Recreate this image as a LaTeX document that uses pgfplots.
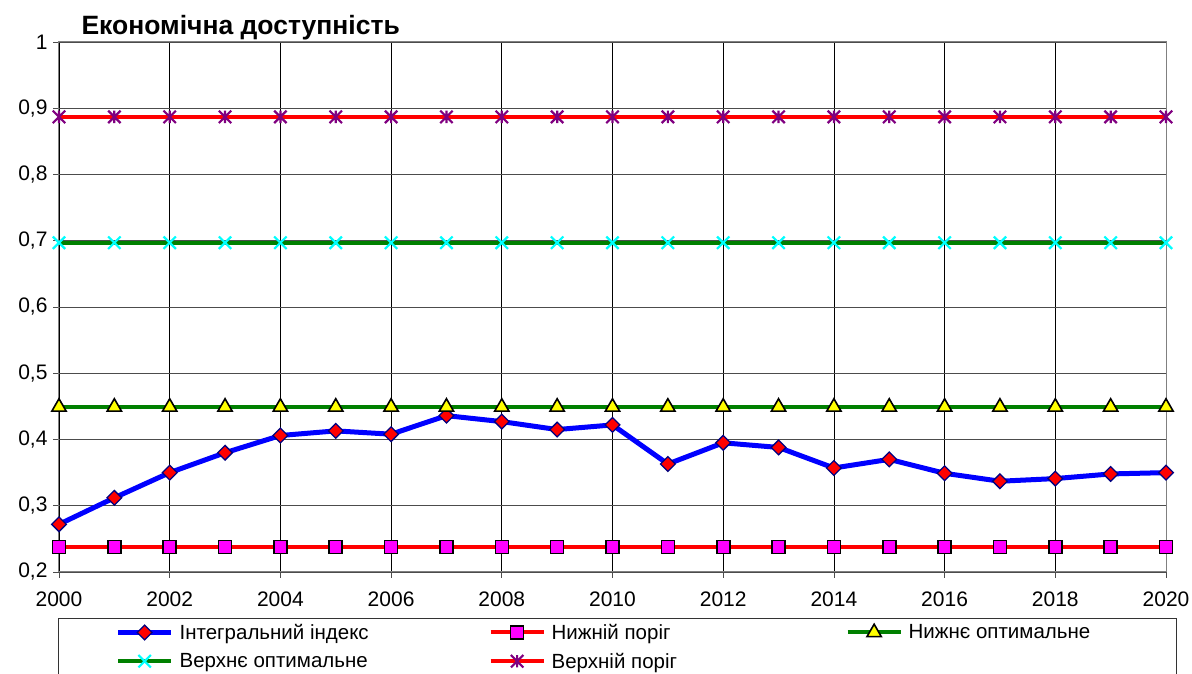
\documentclass[border=0pt]{standalone}
\usepackage{fontspec}
\setmainfont{Liberation Sans}
\usepackage{pgfplots}
\pgfplotsset{compat=1.18}
\definecolor{navyb}{RGB}{0,0,128}
\definecolor{myblue}{RGB}{0,0,255}
\definecolor{myred}{RGB}{255,0,0}
\definecolor{mygreen}{RGB}{0,128,0}
\definecolor{mymag}{RGB}{255,0,255}
\definecolor{myyel}{RGB}{255,255,0}
\definecolor{mycyan}{RGB}{0,255,255}
\definecolor{mypurp}{RGB}{128,0,128}
\pgfdeclareplotmark{myx}{%
  \pgfpathmoveto{\pgfqpoint{-\pgfplotmarksize}{-\pgfplotmarksize}}%
  \pgfpathlineto{\pgfqpoint{\pgfplotmarksize}{\pgfplotmarksize}}%
  \pgfpathmoveto{\pgfqpoint{-\pgfplotmarksize}{\pgfplotmarksize}}%
  \pgfpathlineto{\pgfqpoint{\pgfplotmarksize}{-\pgfplotmarksize}}%
  \pgfusepathqstroke}
\pgfdeclareplotmark{mystar}{%
  \pgfpathmoveto{\pgfqpoint{-\pgfplotmarksize}{-\pgfplotmarksize}}%
  \pgfpathlineto{\pgfqpoint{\pgfplotmarksize}{\pgfplotmarksize}}%
  \pgfpathmoveto{\pgfqpoint{-\pgfplotmarksize}{\pgfplotmarksize}}%
  \pgfpathlineto{\pgfqpoint{\pgfplotmarksize}{-\pgfplotmarksize}}%
  \pgfpathmoveto{\pgfqpoint{0pt}{-\pgfplotmarksize}}%
  \pgfpathlineto{\pgfqpoint{0pt}{\pgfplotmarksize}}%
  \pgfusepathqstroke}
\pgfplotstableread{
year idx low lowopt upopt up
2000 0.272 0.238 0.449 0.697 0.887
2001 0.312 0.238 0.449 0.697 0.887
2002 0.350 0.238 0.449 0.697 0.887
2003 0.380 0.238 0.449 0.697 0.887
2004 0.406 0.238 0.449 0.697 0.887
2005 0.413 0.238 0.449 0.697 0.887
2006 0.408 0.238 0.449 0.697 0.887
2007 0.436 0.238 0.449 0.697 0.887
2008 0.427 0.238 0.449 0.697 0.887
2009 0.415 0.238 0.449 0.697 0.887
2010 0.422 0.238 0.449 0.697 0.887
2011 0.363 0.238 0.449 0.697 0.887
2012 0.395 0.238 0.449 0.697 0.887
2013 0.388 0.238 0.449 0.697 0.887
2014 0.357 0.238 0.449 0.697 0.887
2015 0.370 0.238 0.449 0.697 0.887
2016 0.349 0.238 0.449 0.697 0.887
2017 0.337 0.238 0.449 0.697 0.887
2018 0.341 0.238 0.449 0.697 0.887
2019 0.348 0.238 0.449 0.697 0.887
2020 0.350 0.238 0.449 0.697 0.887
}\datatable
\begin{document}
\begin{tikzpicture}[x=1pt,y=1pt]
\useasboundingbox (-59,-102) rectangle (1133,572);
\clip (-59,-102) rectangle (1133,572);
\begin{axis}[
  at={(0,0)}, anchor=south west,
  scale only axis, width=1107pt, height=530pt,
  xmin=2000, xmax=2020, ymin=0.2, ymax=1,
  xtick={2000,2002,...,2020},
  ytick={0.2,0.3,0.4,0.5,0.6,0.7,0.8,0.9,1},
  clip=false,
  axis line style={black!50, line width=1pt},
  xmajorgrids, ymajorgrids,
  x grid style={black, line width=0.8pt},
  y grid style={black!70, line width=0.8pt},
  tick align=outside, tick pos=left,
  major tick length=6pt,
  tick style={black!70, line width=0.8pt},
  /pgf/number format/assume math mode=true,
  /pgf/number format/use comma,
  xticklabel style={/pgf/number format/1000 sep={}, font=\fontsize{21}{24}\selectfont, yshift=-10pt},
  yticklabel style={font=\fontsize{21}{24}\selectfont, xshift=-2pt},
  legend columns=3,
  legend style={at={(axis description cs:0.051,-0.098)}, anchor=north west,
    draw=none, fill=none, inner sep=0pt, row sep=12pt,
    font=\fontsize{20.5}{24}\selectfont,
    nodes={inner sep=0pt, anchor=west},
    /tikz/column sep=0pt,
    /tikz/every odd column/.style={column sep=6pt}},
  legend image code/.code={\draw[mark repeat=2,mark phase=2] plot coordinates {(0pt,0pt) (26.5pt,0pt) (53pt,0pt)};},
]
\addplot[myblue, line width=5pt, mark=square*, mark size=5.2pt,
  mark options={rotate=45, fill=myred, draw=navyb, line width=1.3pt, solid}]
  table[x=year,y=idx] {\datatable};
\addlegendentry{\makebox[309pt][l]{Інтегральний індекс}}
\addplot[myred, line width=4pt, mark=square*, mark size=6.5pt,
  mark options={fill=mymag, draw=black, line width=1.6pt}]
  table[x=year,y=low] {\datatable};
\addlegendentry{\makebox[294pt][l]{Нижній поріг}}
\addplot[mygreen, line width=4pt, mark=triangle*, mark size=8.3pt,
  mark options={fill=myyel, draw=black, line width=1.6pt}]
  table[x=year,y=lowopt] {\datatable};
\addlegendentry{Нижнє оптимальне}
\addplot[mygreen, line width=4pt, mark=myx, mark size=6.2pt,
  mark options={draw=mycyan, line width=2.2pt}]
  table[x=year,y=upopt] {\datatable};
\addlegendentry{Верхнє оптимальне}
\addplot[myred, line width=4pt, mark=mystar, mark size=6.2pt,
  mark options={draw=mypurp, line width=2.2pt}]
  table[x=year,y=up] {\datatable};
\addlegendentry{Верхній поріг}
\end{axis}
\node[anchor=base west, font=\bfseries\fontsize{26.5}{30}\selectfont] at (19,537) {Економічна доступність};
\draw[black!80, line width=1pt] (-1,-47) rectangle (1117,-140);
\end{tikzpicture}
\end{document}
